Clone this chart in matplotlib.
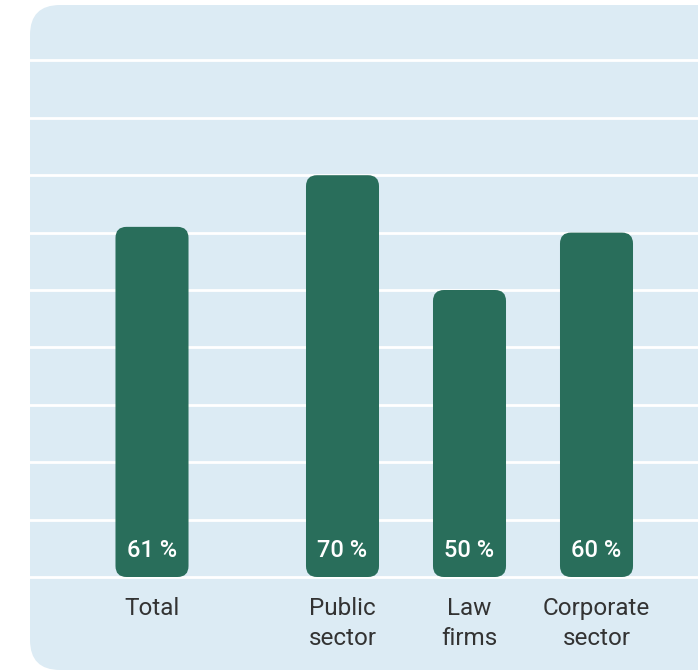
import matplotlib.pyplot as plt
from matplotlib.patches import FancyBboxPatch

categories = ['Total', 'Public\nsector', 'Law\nfirms', 'Corporate\nsector']
values = [61, 70, 50, 60]
value_labels = ['61 %', '70 %', '50 %', '60 %']

PANEL = '#dcebf4'
BAR = '#296e5b'
TEXT = '#333333'

W, H = 698, 671

plt.rcParams['font.family'] = ['Roboto', 'DejaVu Sans']

fig = plt.figure(figsize=(W / 100, H / 100), dpi=100)
fig.patch.set_facecolor('white')

# light blue card behind the chart, rounded on the left, running off the right edge
panel = FancyBboxPatch((30 / W, 1 / H), 1.0, 665 / H,
                       boxstyle='round,pad=0,rounding_size=%f' % (30 / W),
                       mutation_aspect=W / H, transform=fig.transFigure,
                       facecolor=PANEL, edgecolor='none', zorder=-1)
fig.patches.append(panel)

# axes bottom sits 10 px under the zero line so the category labels hang below it
bottom_px = 671 - 587
ax = fig.add_axes([30 / W, bottom_px / H, 1 - 30 / W, 1 - bottom_px / H])
ax.patch.set_alpha(0)

x = [0, 1.5, 2.5, 3.5]
ax.set_xlim((30 - 152) / 127, (698 - 152) / 127)
ax.set_ylim(-10 / 5.74, 577 / 5.74)

ax.set_yticks(range(0, 100, 10))
ax.yaxis.grid(True, color='white', linewidth=2)
ax.set_axisbelow(True)
ax.tick_params(axis='y', length=0, labelleft=False)
for s in ax.spines.values():
    s.set_visible(False)

bars = ax.bar(x, values, width=0.575, color=BAR)

# swap the plain rectangles for rounded ones (corners circular in pixels)
p0 = ax.transData.transform((0, 0))
p1 = ax.transData.transform((1, 1))
px_x = p1[0] - p0[0]
px_y = p1[1] - p0[1]
for b in bars:
    bx, by = b.get_xy()
    rb = FancyBboxPatch((bx, by), b.get_width(), b.get_height(),
                        boxstyle='round,pad=0,rounding_size=%f' % (11 / px_x),
                        mutation_aspect=px_x / px_y,
                        facecolor=BAR, edgecolor='none', zorder=2)
    b.remove()
    ax.add_patch(rb)

for xi, lbl in zip(x, value_labels):
    ax.annotate(lbl, (xi, 0), xytext=(0, 14.4), textcoords='offset points',
                ha='center', va='baseline', color='white', fontsize=17,
                fontweight='medium', zorder=3)

ax.set_xticks(x, categories)
ax.tick_params(axis='x', length=0, pad=7, labelsize=17.5, labelcolor=TEXT)
for t in ax.get_xticklabels():
    t.set_linespacing(1.4)

fig.savefig('out.png', dpi=100)
